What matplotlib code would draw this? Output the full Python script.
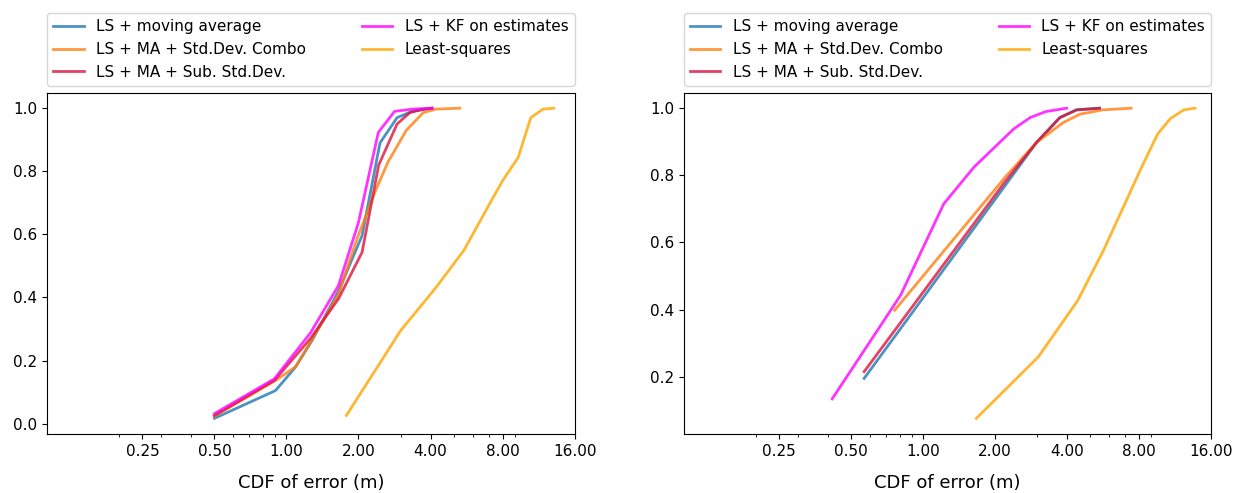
import matplotlib
matplotlib.use('Agg')
import matplotlib.pyplot as plt
from matplotlib.ticker import FormatStrFormatter

# CDF curves, left run: (error in m, cumulative fraction)
ma_l_x = [0.50, 0.90, 1.09, 1.28, 1.65, 2.07, 2.46, 2.90, 3.35, 4.04]
ma_l_y = [0.017, 0.105, 0.179, 0.264, 0.42, 0.596, 0.89, 0.97, 0.99, 1.0]
combo_l_x = [0.50, 0.90, 1.09, 1.26, 1.65, 1.97, 2.36, 2.66, 3.17, 3.73, 4.20, 5.30]
combo_l_y = [0.024, 0.137, 0.18, 0.258, 0.41, 0.585, 0.74, 0.83, 0.93, 0.986, 0.997, 1.0]
sub_l_x = [0.50, 0.89, 1.26, 1.65, 2.07, 2.43, 2.90, 3.28, 3.73, 4.06]
sub_l_y = [0.026, 0.137, 0.27, 0.396, 0.543, 0.82, 0.95, 0.986, 0.997, 1.0]
kf_l_x = [0.50, 0.89, 1.26, 1.65, 2.00, 2.42, 2.83, 3.35, 4.06]
kf_l_y = [0.032, 0.142, 0.288, 0.438, 0.638, 0.923, 0.99, 0.997, 1.0]
ls_l_x = [1.78, 3.00, 4.20, 5.52, 7.05, 8.0, 9.3, 10.5, 11.8, 13.1]
ls_l_y = [0.026, 0.295, 0.43, 0.55, 0.696, 0.77, 0.844, 0.97, 0.997, 1.0]

# right run
ma_r_x = [0.567, 2.20, 2.98, 3.73, 4.38, 5.46]
ma_r_y = [0.195, 0.769, 0.898, 0.972, 0.995, 1.0]
combo_r_x = [0.761, 2.20, 2.98, 3.85, 4.52, 5.63, 7.40]
combo_r_y = [0.398, 0.794, 0.898, 0.957, 0.982, 0.995, 1.0]
sub_r_x = [0.567, 2.20, 2.98, 3.73, 4.38, 5.46]
sub_r_y = [0.215, 0.781, 0.898, 0.972, 0.995, 1.0]
kf_r_x = [0.417, 0.806, 1.22, 1.63, 2.39, 2.80, 3.26, 3.98]
kf_r_y = [0.134, 0.443, 0.715, 0.824, 0.938, 0.972, 0.99, 1.0]
ls_r_x = [1.67, 3.03, 4.42, 5.67, 6.97, 8.0, 9.55, 10.8, 12.3, 13.7]
ls_r_y = [0.076, 0.259, 0.426, 0.576, 0.715, 0.809, 0.923, 0.969, 0.995, 1.0]

labels = ['LS + moving average', 'LS + MA + Std.Dev. Combo', 'LS + MA + Sub. Std.Dev.',
          'LS + KF on estimates', 'Least-squares']
colors = ['#1f77b4', '#ff7f0e', 'crimson', 'magenta', 'orange']
xticks = [0.25, 0.5, 1, 2, 4, 8, 16]

runs = [
    [(ma_l_x, ma_l_y), (combo_l_x, combo_l_y), (sub_l_x, sub_l_y), (kf_l_x, kf_l_y), (ls_l_x, ls_l_y)],
    [(ma_r_x, ma_r_y), (combo_r_x, combo_r_y), (sub_r_x, sub_r_y), (kf_r_x, kf_r_y), (ls_r_x, ls_r_y)],
]

fig = plt.figure(figsize=(12.41, 4.93), dpi=100)
axes = [fig.add_axes([0.038, 0.12, 0.425, 0.692]),
        fig.add_axes([0.551, 0.12, 0.425, 0.692])]

for ax, curves in zip(axes, runs):
    for (x, y), lab, c in zip(curves, labels, colors):
        ax.plot(x, y, color=c, lw=2, alpha=0.8, label=lab)
    ax.set_xscale('log')
    ax.set_xlim(0.1, 16)
    ax.set_xticks(xticks)
    ax.xaxis.set_major_formatter(FormatStrFormatter('%.2f'))
    ax.set_xlabel('CDF of error (m)', fontsize=13, labelpad=11)
    ax.tick_params(labelsize=11)
    ax.legend(bbox_to_anchor=(0., 1.02, 1., .102), loc='lower left', ncol=2,
              mode='expand', borderaxespad=0., fontsize=11)

fig.savefig('out.png', dpi=100)
